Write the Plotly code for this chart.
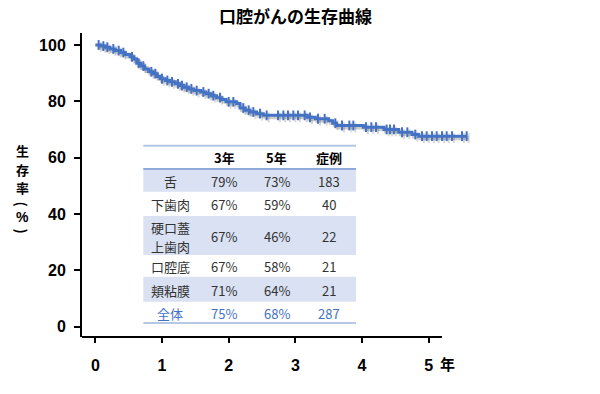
import numpy as np
import plotly.graph_objects as go

# ---------------- data ----------------
title_text = "口腔がんの生存曲線"
ylabel_main = ["生", "存", "率"]
ylabel_paren = ["(", "%", ")"]
x_ticks = [0, 1, 2, 3, 4, 5]
y_ticks = [0, 20, 40, 60, 80, 100]
x_unit = "年"

# Kaplan-Meier step curve: event times (years) and survival (%) after each drop
event_times = [0, 0.08, 0.15, 0.22, 0.30, 0.38, 0.45, 0.52, 0.58, 0.62, 0.68, 0.74,
               0.80, 0.87, 0.93, 0.97, 1.05, 1.12, 1.20, 1.27, 1.33, 1.40, 1.48,
               1.58, 1.66, 1.74, 1.82, 1.90, 1.96, 2.12, 2.17, 2.25, 2.32, 2.42,
               2.52, 3.18, 3.30, 3.50, 3.56, 3.62, 4.02, 4.33, 4.55, 4.75, 4.85]
survival = [100, 99.6, 99.2, 98.6, 98.0, 97.3, 96.6, 95.8, 95.0, 93.5, 92.5, 91.5,
            90.5, 89.8, 88.8, 88.0, 87.4, 86.9, 86.2, 85.6, 85.0, 84.4, 83.8,
            83.3, 82.7, 82.0, 81.3, 80.6, 79.8, 79.2, 77.6, 76.8, 76.2, 75.6,
            75.0, 74.3, 73.8, 73.1, 72.2, 71.4, 70.8, 70.0, 69.0, 68.2, 67.6]
follow_up_end = 5.57

censor_times = [0.05, 0.12, 0.18, 0.27, 0.35, 0.42, 0.55, 0.65, 0.72, 0.84, 0.90,
                1.00, 1.08, 1.15, 1.24, 1.30, 1.37, 1.44, 1.52, 1.62, 1.70, 1.77,
                1.87, 2.00, 2.07, 2.22, 2.30, 2.37, 2.47, 2.57, 2.74, 2.82, 2.89,
                2.97, 3.04, 3.14, 3.22, 3.34, 3.44, 3.60, 3.70, 3.81, 3.87, 4.06,
                4.14, 4.21, 4.37, 4.42, 4.48, 4.60, 4.68, 4.80, 4.90, 4.97, 5.05,
                5.12, 5.20, 5.27, 5.35, 5.50, 5.57]

table_header = ["", "3年", "5年", "症例"]
sites = ["舌", "下歯肉", "硬口蓋<br>上歯肉", "口腔底", "頬粘膜", "全体"]
rate_3yr = [79, 67, 67, 67, 71, 75]
rate_5yr = [73, 59, 46, 58, 64, 68]
cases = [183, 40, 22, 21, 21, 287]

# ---------------- helpers ----------------
BLUE = "#4472C4"
CJK = "Noto Sans CJK JP"
LAT = "Liberation Sans, Arial, sans-serif"

L, T, W, H = 82, 33, 390, 304       # plot area in pixels
XR = [-0.2, 5.65]
YR = [-3.73, 104.26]


def fx(x):
    return (x - L) / W


def fy(y):
    return 1 - (y - T) / H


step_x = list(event_times) + [follow_up_end]
step_y = list(survival) + [survival[-1]]
idx = np.searchsorted(np.array(event_times), np.array(censor_times), side="right") - 1
censor_y = [survival[i] for i in idx]

fig = go.Figure()

# shadow (same data drawn on slightly shifted overlay axes)
fig.add_trace(go.Scatter(x=step_x, y=step_y, mode="lines", line_shape="hv",
                         line=dict(color="rgba(0,0,0,0.2)", width=4),
                         xaxis="x2", yaxis="y2", hoverinfo="skip", showlegend=False))
fig.add_trace(go.Scatter(x=censor_times, y=censor_y, mode="markers",
                         marker=dict(symbol="line-ns", size=7,
                                     line=dict(color="rgba(0,0,0,0.15)", width=2)),
                         xaxis="x2", yaxis="y2", hoverinfo="skip", showlegend=False))
# main curve
fig.add_trace(go.Scatter(x=step_x, y=step_y, mode="lines", line_shape="hv",
                         line=dict(color=BLUE, width=3),
                         xaxis="x3", yaxis="y3", showlegend=False))
fig.add_trace(go.Scatter(x=censor_times, y=censor_y, mode="markers",
                         marker=dict(symbol="line-ns", size=7,
                                     line=dict(color=BLUE, width=2)),
                         xaxis="x3", yaxis="y3", showlegend=False))

sx = 2 * (XR[1] - XR[0]) / W
sy = 2 * (YR[1] - YR[0]) / H

fig.update_layout(
    width=600, height=394,
    margin=dict(l=L, r=600 - L - W, t=T, b=394 - T - H),
    paper_bgcolor="white", plot_bgcolor="white",
    showlegend=False,
    xaxis=dict(range=XR, tickvals=x_ticks, ticktext=[str(v) for v in x_ticks],
               showline=False, showgrid=False, zeroline=False,
               ticks="outside", ticklen=5, tickwidth=2, tickcolor="black",
               ticklabelstandoff=9,
               tickfont=dict(family=LAT, size=16, color="black", weight="bold")),
    yaxis=dict(range=YR, tickvals=y_ticks, showline=True, linewidth=2, linecolor="black",
               showgrid=False, zeroline=False,
               ticks="outside", ticklen=6, tickwidth=2, tickcolor="black",
               ticklabelstandoff=5,
               tickfont=dict(family=LAT, size=16, color="black", weight="bold")),
    xaxis2=dict(range=[XR[0] - sx, XR[1] - sx], overlaying="x", visible=False),
    yaxis2=dict(range=[YR[0] + sy, YR[1] + sy], overlaying="y", visible=False),
    xaxis3=dict(range=XR, overlaying="x", visible=False),
    yaxis3=dict(range=YR, overlaying="y", visible=False),
)

shapes = []
annotations = []

# x axis line (ends before the curve's end)
shapes.append(dict(type="line", xref="x", yref="paper", x0=XR[0], x1=5.2, y0=0, y1=0,
                   line=dict(color="black", width=2)))

# title
annotations.append(dict(text=title_text, xref="paper", yref="paper", x=fx(295), y=fy(16),
                        showarrow=False, xanchor="center", yanchor="middle",
                        font=dict(family=CJK, size=17, color="black", weight="bold")))

# y label (vertical stack; parentheses rotated)
for ch, yp in zip(ylabel_main, [150, 169, 188]):
    annotations.append(dict(text=ch, xref="paper", yref="paper", x=fx(22), y=fy(yp),
                            showarrow=False, xanchor="center", yanchor="middle",
                            font=dict(family=CJK, size=13, color="black", weight="bold")))
for ch, yp, ang, fam in zip(ylabel_paren, [203.5, 217, 230.5], [90, 0, 90], [CJK, LAT, CJK]):
    annotations.append(dict(text=ch, xref="paper", yref="paper", x=fx(22), y=fy(yp),
                            showarrow=False, xanchor="center", yanchor="middle",
                            textangle=ang,
                            font=dict(family=fam, size=14, color="black", weight="bold")))

# x unit
annotations.append(dict(text=x_unit, xref="paper", yref="paper", x=fx(447), y=fy(363),
                        showarrow=False, xanchor="center", yanchor="middle",
                        font=dict(family=CJK, size=15, color="black", weight="bold")))

# ---------------- table ----------------
tx0, tx1 = 143.3, 356
col_x = [170, 224.3, 276.7, 329]
row_edges = [169, 191.7, 216, 255, 276.7, 301.7, 323]
for i in range(len(sites)):
    if i % 2 == 0 and i < 5:
        shapes.append(dict(type="rect", xref="paper", yref="paper", layer="below",
                           x0=fx(tx0), x1=fx(tx1), y0=fy(row_edges[i]), y1=fy(row_edges[i + 1]),
                           fillcolor="#D9E1F2", line=dict(width=0)))
shapes.append(dict(type="line", xref="paper", yref="paper", x0=fx(tx0), x1=fx(tx1),
                   y0=fy(145.7), y1=fy(145.7), line=dict(color="#B4C6E7", width=2)))
shapes.append(dict(type="line", xref="paper", yref="paper", x0=fx(tx0), x1=fx(tx1),
                   y0=fy(169), y1=fy(169), line=dict(color="#8EA9DB", width=2)))
shapes.append(dict(type="line", xref="paper", yref="paper", x0=fx(tx0), x1=fx(tx1),
                   y0=fy(323), y1=fy(323), line=dict(color="#9FB6DD", width=1.5)))

for c, h in enumerate(table_header):
    if h:
        annotations.append(dict(text=h, xref="paper", yref="paper", x=fx(col_x[c]), y=fy(158),
                                showarrow=False, xanchor="center", yanchor="middle",
                                font=dict(family=CJK, size=13, color="black", weight="bold")))

LINE_GAP = 19
for i, site in enumerate(sites):
    yc = (row_edges[i] + row_edges[i + 1]) / 2 + 1
    color = BLUE if i == len(sites) - 1 else "#333333"
    # row label (multi-line labels placed line by line)
    parts = site.split("<br>")
    for k, part in enumerate(parts):
        yk = yc + (k - (len(parts) - 1) / 2) * LINE_GAP
        annotations.append(dict(text=part, xref="paper", yref="paper", x=fx(col_x[0]), y=fy(yk),
                                showarrow=False, xanchor="center", yanchor="middle",
                                font=dict(family=CJK, size=13, color=color)))
    vals = [f"{rate_3yr[i]}%", f"{rate_5yr[i]}%", str(cases[i])]
    for c, v in enumerate(vals, start=1):
        annotations.append(dict(text=v, xref="paper", yref="paper", x=fx(col_x[c]), y=fy(yc),
                                showarrow=False, xanchor="center", yanchor="middle",
                                font=dict(family=CJK, size=13, color=color)))

fig.update_layout(shapes=shapes, annotations=annotations)
fig.write_html("out.html", config={"displayModeBar": False},
               post_script="document.body.style.margin='0';document.body.style.padding='0';")
